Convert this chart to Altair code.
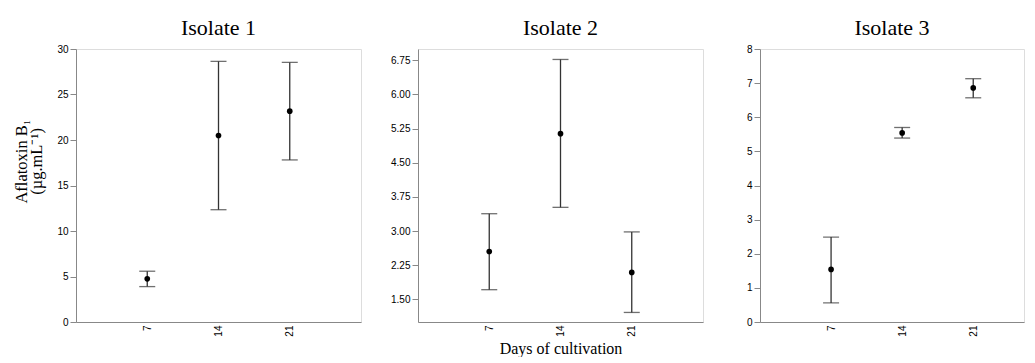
import altair as alt
import pandas as pd

days = [7, 14, 21]

iso1_mean = [4.74, 20.49, 23.17]
iso1_low = [3.89, 12.34, 17.81]
iso1_high = [5.58, 28.64, 28.53]

iso2_mean = [2.55, 5.14, 2.09]
iso2_low = [1.71, 3.52, 1.21]
iso2_high = [3.38, 6.77, 2.98]

iso3_mean = [1.54, 5.54, 6.86]
iso3_low = [0.56, 5.39, 6.57]
iso3_high = [2.49, 5.70, 7.13]

titles = ["Isolate 1", "Isolate 2", "Isolate 3"]
y_domains = [[0, 30], [1.0, 7.0], [0, 8]]
y_ticks = [
    [0, 5, 10, 15, 20, 25, 30],
    [1.5, 2.25, 3.0, 3.75, 4.5, 5.25, 6.0, 6.75],
    [0, 1, 2, 3, 4, 5, 6, 7, 8],
]
y_formats = ["d", ".2f", "d"]
x_domains = [[0, 28], [0, 28], [0, 26]]
widths = [285, 285, 264]
title_offsets = [4, 9, 4]

SERIF = "Liberation Serif"
SANS = "Open Sans"
BAR = "#333333"
FRAME = "#808080"


def panel(i, mean, low, high):
    df = pd.DataFrame({"day": days, "mean": mean, "low": low, "high": high})
    xtitle = "Days of cultivation" if i == 1 else None
    x = alt.X(
        "day:Q",
        scale=alt.Scale(domain=x_domains[i], nice=False, zero=False),
        axis=alt.Axis(
            values=days, labelAngle=270, grid=False, title=xtitle, ticks=False,
            labelPadding=3, labelOverlap=False, tickCount=20,
            titleFont=SERIF, titleFontSize=16, titleFontWeight="normal",
            titleColor="black", titlePadding=4,
        ),
    )
    yscale = alt.Scale(domain=y_domains[i], nice=False, zero=False)
    if i == 0:
        yaxis = alt.Axis(
            values=y_ticks[i], format=y_formats[i], grid=False,
            title=["Aflatoxin B\u2081", "(\u00b5g.mL\u207b\u00b9)"],
            labelOverlap=False, tickCount=20, tickSize=6, labelPadding=2,
            titleFont=SERIF, titleFontSize=16.5, titleFontWeight="normal",
            titleColor="black", titlePadding=12, titleLineHeight=15, titleY=112,
        )
    else:
        yaxis = alt.Axis(
            values=y_ticks[i], format=y_formats[i], grid=False, title=None,
            labelOverlap=False, tickCount=20, tickSize=6, labelPadding=2,
        )
    base = alt.Chart(df)
    rule = base.mark_rule(color=BAR, strokeWidth=1.3).encode(
        x=x, y=alt.Y("low:Q", scale=yscale, axis=yaxis), y2="high:Q"
    )
    cap_lo = base.mark_tick(orient="horizontal", size=16, thickness=1.3, color=BAR).encode(
        x="day:Q", y="low:Q"
    )
    cap_hi = base.mark_tick(orient="horizontal", size=16, thickness=1.3, color=BAR).encode(
        x="day:Q", y="high:Q"
    )
    pts = base.mark_point(filled=True, color="black", size=32, opacity=1).encode(
        x="day:Q", y="mean:Q"
    )
    return alt.layer(rule, cap_lo, cap_hi, pts).properties(
        width=widths[i], height=273,
        title=alt.TitleParams(
            titles[i], font=SERIF, fontSize=22, fontWeight="normal",
            color="black", offset=title_offsets[i],
        ),
    )


p1 = panel(0, iso1_mean, iso1_low, iso1_high)
p2 = panel(1, iso2_mean, iso2_low, iso2_high)
p3 = panel(2, iso3_mean, iso3_low, iso3_high)

chart = alt.hconcat(p1, p2, p3, spacing=57, bounds="flush").properties(
    padding={"left": 5, "top": 8, "right": 0, "bottom": 0}
).configure_view(
    stroke=FRAME, strokeWidth=1.5
).configure_axis(
    labelFont=SANS, labelFontSize=10.5, labelColor="#555555",
    tickColor=FRAME, tickWidth=1.2,
    domainColor=FRAME, domainWidth=1.5,
).configure(background="white")

chart.save("out.html", embed_options={"renderer": "svg", "actions": False})
